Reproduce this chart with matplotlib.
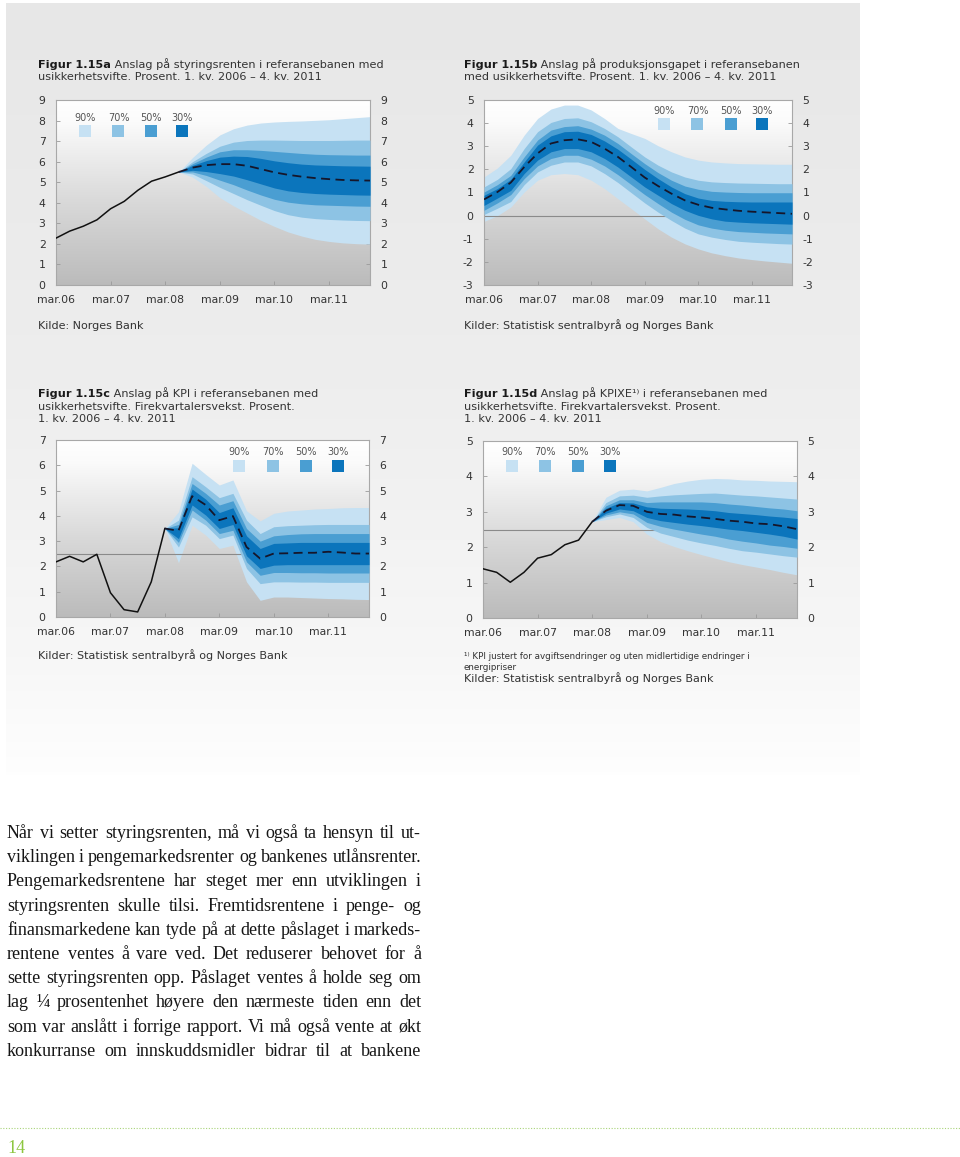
import matplotlib
matplotlib.use("Agg")
import matplotlib.pyplot as plt
import numpy as np
from matplotlib.colors import LinearSegmentedColormap
from matplotlib.patches import Rectangle

W, H = 960, 1157
plt.rcParams["font.family"] = ["DejaVu Sans"]
plt.rcParams["axes.unicode_minus"] = False

# ---------------------------------------------------------------------------
# Data  (x = quarter index, 0 = 1. kv. 2006 ... 23 = 4. kv. 2011)
# ---------------------------------------------------------------------------
YEAR_TICKS = [0, 4, 8, 12, 16, 20]
YEAR_LABELS = ["mar.06", "mar.07", "mar.08", "mar.09", "mar.10", "mar.11"]
BAND_LABELS = ["90%", "70%", "50%", "30%"]
BAND_COLORS = ["#c6e1f3", "#8dc3e4", "#4a9ed2", "#0b75bc"]

# Figur 1.15a - styringsrenten (fan from q9)
A_HIST = [2.28, 2.62, 2.86, 3.17, 3.71, 4.07, 4.61, 5.05, 5.26, 5.50]
A_START = 9
A_MEDIAN = [5.50, 5.71, 5.83, 5.88, 5.88, 5.80, 5.64, 5.48, 5.36, 5.27, 5.20, 5.15, 5.11, 5.09, 5.08]
A_HI90 = [5.50, 6.20, 6.80, 7.30, 7.60, 7.78, 7.88, 7.93, 7.96, 7.98, 8.01, 8.04, 8.09, 8.14, 8.19]
A_HI70 = [5.50, 6.00, 6.40, 6.75, 6.95, 7.03, 7.05, 7.05, 7.04, 7.03, 7.03, 7.03, 7.04, 7.05, 7.05]
A_HI50 = [5.50, 5.90, 6.22, 6.48, 6.58, 6.58, 6.55, 6.50, 6.45, 6.40, 6.36, 6.34, 6.33, 6.32, 6.32]
A_HI30 = [5.50, 5.82, 6.05, 6.22, 6.27, 6.25, 6.16, 6.04, 5.95, 5.88, 5.84, 5.82, 5.80, 5.79, 5.78]
A_LO30 = [5.50, 5.58, 5.52, 5.42, 5.30, 5.12, 4.92, 4.72, 4.58, 4.50, 4.45, 4.42, 4.40, 4.38, 4.37]
A_LO50 = [5.50, 5.50, 5.33, 5.10, 4.88, 4.62, 4.38, 4.17, 4.03, 3.95, 3.90, 3.88, 3.86, 3.84, 3.83]
A_LO70 = [5.50, 5.40, 5.08, 4.75, 4.45, 4.15, 3.88, 3.62, 3.42, 3.30, 3.23, 3.19, 3.16, 3.14, 3.13]
A_LO90 = [5.50, 5.25, 4.80, 4.25, 3.85, 3.50, 3.15, 2.85, 2.58, 2.38, 2.22, 2.12, 2.05, 2.01, 1.99]

# Figur 1.15b - produksjonsgapet (fan over the whole period)
B_START = 0
B_MEDIAN = [0.70, 1.02, 1.43, 2.10, 2.69, 3.12, 3.26, 3.30, 3.19, 2.90, 2.54, 2.10,
            1.65, 1.28, 0.95, 0.66, 0.47, 0.34, 0.27, 0.21, 0.17, 0.14, 0.11, 0.08]
B_HI90 = [1.67, 2.06, 2.61, 3.48, 4.20, 4.61, 4.78, 4.78, 4.57, 4.20, 3.77, 3.55,
          3.34, 3.02, 2.76, 2.54, 2.40, 2.32, 2.28, 2.25, 2.24, 2.23, 2.22, 2.22]
B_HI70 = [1.24, 1.57, 2.03, 2.90, 3.63, 4.03, 4.20, 4.23, 4.06, 3.77, 3.41, 2.97,
          2.54, 2.18, 1.89, 1.67, 1.53, 1.46, 1.43, 1.41, 1.40, 1.39, 1.38, 1.38]
B_HI50 = [1.02, 1.34, 1.74, 2.54, 3.27, 3.70, 3.85, 3.89, 3.74, 3.48, 3.12, 2.68,
          2.25, 1.86, 1.53, 1.28, 1.14, 1.05, 1.02, 1.00, 0.99, 0.99, 0.99, 0.99]
B_HI30 = [0.88, 1.17, 1.57, 2.32, 3.05, 3.45, 3.63, 3.65, 3.51, 3.23, 2.87, 2.44,
          2.00, 1.60, 1.24, 0.95, 0.76, 0.66, 0.62, 0.60, 0.59, 0.59, 0.59, 0.59]
B_LO30 = [0.44, 0.76, 1.09, 1.82, 2.40, 2.76, 2.90, 2.90, 2.76, 2.47, 2.10, 1.67,
          1.24, 0.88, 0.52, 0.23, 0.01, -0.14, -0.24, -0.28, -0.31, -0.33, -0.35, -0.37]
B_LO50 = [0.23, 0.55, 0.91, 1.60, 2.15, 2.47, 2.61, 2.61, 2.44, 2.15, 1.77, 1.34,
          0.91, 0.52, 0.15, -0.16, -0.40, -0.54, -0.63, -0.69, -0.72, -0.75, -0.77, -0.79]
B_LO70 = [0.05, 0.32, 0.61, 1.34, 1.89, 2.18, 2.32, 2.32, 2.15, 1.82, 1.43, 0.99,
          0.55, 0.15, -0.21, -0.54, -0.79, -0.93, -1.03, -1.11, -1.15, -1.18, -1.21, -1.23]
B_LO90 = [-0.25, 0.00, 0.37, 1.02, 1.53, 1.77, 1.82, 1.77, 1.53, 1.17, 0.73, 0.30,
          -0.14, -0.57, -0.93, -1.22, -1.44, -1.61, -1.73, -1.83, -1.90, -1.96, -2.01, -2.06]

# Figur 1.15c - KPI (fan from q8)
C_HIST = [2.18, 2.40, 2.18, 2.48, 0.96, 0.29, 0.20, 1.39, 3.50]
C_START = 8
C_MEDIAN = [3.50, 3.41, 4.78, 4.43, 3.83, 3.99, 2.77, 2.31, 2.51, 2.52, 2.54, 2.54, 2.58, 2.55, 2.51, 2.51]
C_HI90 = [3.50, 4.16, 6.08, 5.64, 5.22, 5.42, 4.20, 3.80, 4.10, 4.19, 4.23, 4.27, 4.29, 4.32, 4.33, 4.33]
C_HI70 = [3.50, 3.83, 5.55, 5.15, 4.72, 4.89, 3.83, 3.30, 3.57, 3.61, 3.63, 3.65, 3.66, 3.66, 3.66, 3.66]
C_HI50 = [3.50, 3.66, 5.28, 4.89, 4.43, 4.60, 3.50, 3.00, 3.21, 3.26, 3.29, 3.30, 3.30, 3.30, 3.30, 3.30]
C_HI30 = [3.50, 3.53, 5.06, 4.66, 4.13, 4.32, 3.21, 2.71, 2.91, 2.93, 2.95, 2.95, 2.95, 2.95, 2.95, 2.95]
C_LO30 = [3.50, 3.10, 4.43, 4.03, 3.50, 3.66, 2.42, 1.92, 2.05, 2.07, 2.07, 2.07, 2.07, 2.07, 2.07, 2.07]
C_LO50 = [3.50, 2.95, 4.23, 3.83, 3.30, 3.43, 2.18, 1.65, 1.76, 1.76, 1.75, 1.75, 1.74, 1.74, 1.74, 1.74]
C_LO70 = [3.50, 2.77, 3.96, 3.63, 3.10, 3.24, 1.92, 1.32, 1.39, 1.39, 1.38, 1.38, 1.37, 1.37, 1.37, 1.37]
C_LO90 = [3.50, 2.15, 3.63, 3.24, 2.71, 2.84, 1.39, 0.66, 0.79, 0.79, 0.77, 0.75, 0.73, 0.72, 0.70, 0.69]

# Figur 1.15d - KPIXE (fan from q8)
D_HIST = [1.39, 1.29, 1.01, 1.29, 1.69, 1.79, 2.07, 2.20, 2.72]
D_START = 8
D_MEDIAN = [2.72, 3.03, 3.19, 3.17, 3.00, 2.94, 2.92, 2.87, 2.84, 2.80, 2.75, 2.72, 2.67, 2.65, 2.59, 2.51]
D_HI90 = [2.72, 3.41, 3.61, 3.64, 3.59, 3.69, 3.80, 3.87, 3.92, 3.94, 3.93, 3.90, 3.89, 3.87, 3.86, 3.85]
D_HI70 = [2.72, 3.26, 3.45, 3.47, 3.41, 3.45, 3.48, 3.50, 3.52, 3.53, 3.50, 3.47, 3.45, 3.42, 3.39, 3.36]
D_HI50 = [2.72, 3.17, 3.34, 3.34, 3.26, 3.28, 3.28, 3.28, 3.28, 3.26, 3.22, 3.19, 3.15, 3.11, 3.08, 3.03]
D_HI30 = [2.72, 3.10, 3.26, 3.25, 3.14, 3.10, 3.09, 3.08, 3.06, 3.03, 2.98, 2.95, 2.92, 2.88, 2.85, 2.81]
D_LO30 = [2.72, 2.96, 3.08, 3.03, 2.84, 2.75, 2.70, 2.65, 2.61, 2.56, 2.51, 2.47, 2.42, 2.37, 2.31, 2.23]
D_LO50 = [2.72, 2.91, 3.00, 2.94, 2.70, 2.59, 2.51, 2.44, 2.37, 2.31, 2.23, 2.17, 2.12, 2.06, 2.02, 1.97]
D_LO70 = [2.72, 2.86, 2.94, 2.84, 2.56, 2.40, 2.30, 2.20, 2.12, 2.05, 1.97, 1.90, 1.86, 1.81, 1.76, 1.72]
D_LO90 = [2.72, 2.78, 2.84, 2.72, 2.37, 2.16, 2.02, 1.90, 1.79, 1.69, 1.59, 1.51, 1.44, 1.37, 1.29, 1.22]

BODY_LINES = [
    "Når vi setter styringsrenten, må vi også ta hensyn til ut-",
    "viklingen i pengemarkedsrenter og bankenes utlånsrenter.",
    "Pengemarkedsrentene har steget mer enn utviklingen i",
    "styringsrenten skulle tilsi. Fremtidsrentene i penge- og",
    "finansmarkedene kan tyde på at dette påslaget i markeds-",
    "rentene ventes å vare ved. Det reduserer behovet for å",
    "sette styringsrenten opp. Påslaget ventes å holde seg om",
    "lag ¼ prosentenhet høyere den nærmeste tiden enn det",
    "som var anslått i forrige rapport. Vi må også vente at økt",
    "konkurranse om innskuddsmidler bidrar til at bankene",
]

charts = [
    dict(rect=(56, 100, 370, 285), ylim=(0, 9), ref=None,
         hist=A_HIST, start=A_START, median=A_MEDIAN,
         upper=[A_HI90, A_HI70, A_HI50, A_HI30], lower=[A_LO90, A_LO70, A_LO50, A_LO30],
         leg_x=[0.092, 0.199, 0.302, 0.402], leg_y=(0.904, 0.834),
         title_bold="Figur 1.15a",
         title=[" Anslag på styringsrenten i referansebanen med",
                "usikkerhetsvifte. Prosent. 1. kv. 2006 – 4. kv. 2011"],
         tx=38, ty=68,
         notes=[("Kilde: Norges Bank", 329, 8)]),
    dict(rect=(484, 100, 792, 285), ylim=(-3, 5), ref=0,
         hist=None, start=B_START, median=B_MEDIAN,
         upper=[B_HI90, B_HI70, B_HI50, B_HI30], lower=[B_LO90, B_LO70, B_LO50, B_LO30],
         leg_x=[0.585, 0.693, 0.801, 0.904], leg_y=(0.942, 0.869),
         title_bold="Figur 1.15b",
         title=[" Anslag på produksjonsgapet i referansebanen",
                "med usikkerhetsvifte. Prosent. 1. kv. 2006 – 4. kv. 2011"],
         tx=464, ty=68,
         notes=[("Kilder: Statistisk sentralbyrå og Norges Bank", 329, 8)]),
    dict(rect=(56, 440, 369, 617), ylim=(0, 7), ref=2.5,
         hist=C_HIST, start=C_START, median=C_MEDIAN,
         upper=[C_HI90, C_HI70, C_HI50, C_HI30], lower=[C_LO90, C_LO70, C_LO50, C_LO30],
         leg_x=[0.586, 0.692, 0.798, 0.902], leg_y=(0.93, 0.853),
         title_bold="Figur 1.15c",
         title=[" Anslag på KPI i referansebanen med",
                "usikkerhetsvifte. Firekvartalersvekst. Prosent.",
                "1. kv. 2006 – 4. kv. 2011"],
         tx=38, ty=397,
         notes=[("Kilder: Statistisk sentralbyrå og Norges Bank", 659, 8)]),
    dict(rect=(483, 441, 797, 618), ylim=(0, 5), ref=2.5,
         hist=D_HIST, start=D_START, median=D_MEDIAN,
         upper=[D_HI90, D_HI70, D_HI50, D_HI30], lower=[D_LO90, D_LO70, D_LO50, D_LO30],
         leg_x=[0.092, 0.198, 0.302, 0.404], leg_y=(0.94, 0.859),
         title_bold="Figur 1.15d",
         title=[" Anslag på KPIXE¹⁾ i referansebanen med",
                "usikkerhetsvifte. Firekvartalersvekst. Prosent.",
                "1. kv. 2006 – 4. kv. 2011"],
         tx=464, ty=397,
         notes=[("¹⁾ KPI justert for avgiftsendringer og uten midlertidige endringer i", 659, 6.3),
                ("energipriser", 670, 6.3),
                ("Kilder: Statistisk sentralbyrå og Norges Bank", 682, 8)]),
]

FS_TITLE = 8.1
FS_TICK = 7.8
TXT = "#333333"

fig = plt.figure(figsize=(W / 100, H / 100), dpi=100)
renderer = fig.canvas.get_renderer()

# page background in pixel coordinates
bg = fig.add_axes([0, 0, 1, 1])
bg.axis("off")
bg.set_zorder(0)

panel_cmap = LinearSegmentedColormap.from_list(
    "panel", [(0, "#e7e7e7"), (0.5, "#eeeeee"), (0.85, "#f7f7f7"), (1, "#fefefe")])
bg.imshow(np.linspace(0, 1, 256).reshape(-1, 1), cmap=panel_cmap,
          extent=(6, 860, 775, 3), origin="upper", aspect="auto", zorder=0)
bg.set_xlim(0, W)
bg.set_ylim(H, 0)

plot_cmap = LinearSegmentedColormap.from_list(
    "plotbg", [(0, "#ffffff"), (0.12, "#fbfbfb"), (0.55, "#d9d9d9"), (1, "#bbbbbb")])
grad = np.linspace(0, 1, 256).reshape(-1, 1)


def text_width(t):
    return t.get_window_extent(renderer).width


for spec in charts:
    left, top, right, bottom = spec["rect"]
    ax = fig.add_axes([left / W, 1 - bottom / H, (right - left) / W, (bottom - top) / H])
    ax.set_zorder(1)
    ymin, ymax = spec["ylim"]
    ax.imshow(grad, cmap=plot_cmap, extent=(0, 23, ymin, ymax), origin="upper",
              aspect="auto", zorder=0)

    xs = np.arange(spec["start"], spec["start"] + len(spec["median"]))
    for k, (hi, lo, col) in enumerate(zip(spec["upper"], spec["lower"], BAND_COLORS)):
        ax.fill_between(xs, lo, hi, color=col, lw=0, zorder=2 + k)
    # reference line sits on top of the outer band only
    if spec["ref"] is not None:
        ax.axhline(spec["ref"], color="#8a8a8a", lw=0.8, zorder=2.5)

    if spec["hist"]:
        ax.plot(np.arange(len(spec["hist"])), spec["hist"], color="#111111", lw=1.1, zorder=7)
    ax.plot(xs, spec["median"], color="#16162a", lw=1.3, ls=(0, (5, 3)), zorder=7)

    # legend
    sw, sh = 12 / (right - left), 12 / (bottom - top)
    for x, lab, col in zip(spec["leg_x"], BAND_LABELS, BAND_COLORS):
        ax.text(x, spec["leg_y"][0], lab, transform=ax.transAxes, ha="center",
                va="center", fontsize=7, color="#555555", zorder=8)
        ax.add_patch(Rectangle((x - sw / 2, spec["leg_y"][1] - sh / 2), sw, sh,
                               transform=ax.transAxes, color=col, lw=0, zorder=8))

    ax.set_xlim(0, 23)
    ax.set_ylim(ymin, ymax)
    ax.set_yticks(range(ymin, ymax + 1))
    ax.set_xticks(YEAR_TICKS, YEAR_LABELS)
    ax.tick_params(axis="both", direction="in", length=3, width=0.6, color="#9a9a9a",
                   labelsize=FS_TICK, labelcolor=TXT, pad=7.5)
    ax.tick_params(axis="y", right=True, labelright=True)
    ax.tick_params(axis="x", pad=7)
    for s in ax.spines.values():
        s.set_color("#a8a8a8")
        s.set_linewidth(0.8)

    # title: bold figure number followed by normal text
    tb = bg.text(spec["tx"], spec["ty"], spec["title_bold"], fontsize=FS_TITLE, weight="bold",
                 color="#1a1a1a", va="baseline", ha="left")
    bw = text_width(tb)
    bg.text(spec["tx"] + bw, spec["ty"], spec["title"][0], fontsize=FS_TITLE, color=TXT,
            va="baseline", ha="left")
    for i, line in enumerate(spec["title"][1:], start=1):
        bg.text(spec["tx"], spec["ty"] + 12.5 * i, line, fontsize=FS_TITLE, color=TXT,
                va="baseline", ha="left")

    for note, ny, nfs in spec["notes"]:
        bg.text(spec["tx"], ny, note, fontsize=nfs, color=TXT, va="baseline", ha="left")

# body text: pick a size so the widest line fits, then justify between x0 and x1
x0, x1 = 7, 421
probe = [bg.text(0, 0, ln, fontsize=10, family="Liberation Serif") for ln in BODY_LINES]
widest = max(text_width(p) for p in probe)
for p in probe:
    p.remove()
body_fs = 10 * (x1 - x0) / widest

for i, line in enumerate(BODY_LINES):
    y = 838 + 24.2 * i
    words = line.split(" ")
    arts = [bg.text(0, y, w, fontsize=body_fs, family="Liberation Serif", color="#161616",
                    va="baseline", ha="left") for w in words]
    widths = [text_width(a) for a in arts]
    gap = (x1 - x0 - sum(widths)) / (len(words) - 1)
    x = x0
    for a, wd in zip(arts, widths):
        a.set_x(x)
        x += wd + gap

# footer
bg.plot([0, W], [1128, 1128], color="#a9d47a", lw=0.8, ls=(0, (1, 1.5)))
bg.text(7, 1153, "14", fontsize=13, family="Liberation Serif", color="#8cc63f",
        va="baseline", ha="left")

fig.savefig("out.png", dpi=100)
